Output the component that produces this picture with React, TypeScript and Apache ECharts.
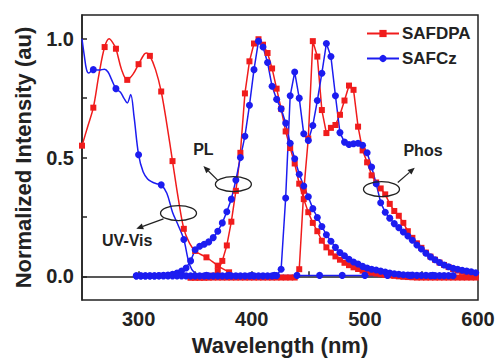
import React, { useEffect, useRef } from "react";
import * as echarts from "echarts";

const RED = "#f01c1c";
const BLUE = "#1c1cf0";
const INK = "#222222";
const FONT = "Arial, 'Liberation Sans', sans-serif";

// Shared wavelength grid for PL / Phos spectra (nm)
const GRID = [
  298, 302, 306, 310, 314, 318, 322, 326, 330, 334, 338, 342, 346, 350, 354, 358, 362, 366, 370, 374,
  378, 382, 386, 390, 394, 398, 402, 406, 410, 414, 418, 422, 426, 430, 434, 438, 442, 446, 450, 454,
  458, 462, 466, 470, 474, 478, 482, 486, 490, 494, 498, 502, 506, 510, 514, 518, 522, 526, 530, 534,
  538, 542, 546, 550, 554, 558, 562, 566, 570, 574, 578, 582, 586, 590, 594, 598,
];

const SAFCZ_PL = [
  0.002, 0.002, 0.002, 0.002, 0.002, 0.003, 0.004, 0.006, 0.009, 0.014, 0.022, 0.035, 0.065, 0.112, 0.127, 0.135, 0.145, 0.163, 0.19, 0.225,
  0.272, 0.325, 0.405, 0.5, 0.59, 0.72, 0.87, 0.99, 0.965, 0.9, 0.8, 0.745, 0.705, 0.645, 0.56, 0.495, 0.43, 0.38, 0.335, 0.285,
  0.248, 0.21, 0.175, 0.148, 0.122, 0.1, 0.087, 0.072, 0.06, 0.052, 0.042, 0.035, 0.03, 0.027, 0.022, 0.018, 0.014, 0.011, 0.009, 0.007,
  0.006, 0.005, 0.004, 0.004, 0.004, 0.003, 0.003, 0.003, 0.003, 0.003, 0.003, null, null, null, null, null,
];

const SAFDPA_PL = [
  null, null, null, null, null, null, null, null, null, null, null, null, -0.005, -0.005, -0.005, -0.005, -0.004, 0.003, 0.022, 0.065,
  0.13, 0.23, 0.36, 0.52, 0.77, 0.905, 0.98, 0.998, 0.975, 0.94, 0.875, 0.79, 0.705, 0.61, 0.54, 0.475, 0.39, 0.325, 0.27, 0.225,
  0.19, 0.15, 0.122, 0.1, 0.084, 0.07, 0.057, 0.047, 0.038, 0.031, 0.024, 0.019, 0.015, 0.012, 0.009, 0.006, 0.004, 0.002, 0.0, -0.002,
  -0.003, -0.004, -0.005, -0.005, -0.005, -0.005, -0.005, -0.005, -0.005, -0.005, -0.005, -0.005, -0.005, -0.005, -0.005, -0.005,
];

const SAFCZ_PHOS = [
  0.002, 0.002, 0.002, 0.002, 0.002, 0.002, 0.002, 0.002, 0.002, 0.002, 0.002, 0.002, 0.002, 0.002, 0.002, 0.002, 0.002, 0.002, 0.002, 0.002,
  0.002, 0.002, 0.002, 0.002, 0.002, 0.002, 0.002, 0.002, 0.002, 0.002, 0.002, 0.003, 0.03, 0.33, 0.76, 0.86, 0.75, 0.6, 0.572, 0.635,
  0.74, 0.855, 0.98, 0.925, 0.76, 0.605, 0.565, 0.555, 0.558, 0.56, 0.552, 0.52, 0.46, 0.39, 0.31, 0.27, 0.245, 0.222, 0.205, 0.187,
  0.17, 0.152, 0.132, 0.115, 0.097, 0.082, 0.07, 0.058, 0.048, 0.04, 0.034, 0.03, 0.026, 0.022, 0.019, 0.015,
];

const SAFDPA_PHOS = [
  null, null, null, null, null, null, null, null, null, null, null, null, -0.005, -0.005, -0.005, -0.005, -0.005, -0.005, -0.005, -0.005,
  -0.005, -0.005, -0.005, -0.005, -0.005, -0.005, -0.005, -0.005, -0.005, -0.005, -0.005, -0.005, -0.005, -0.005, -0.005, -0.005, 0.03, 0.36, 0.58, 0.99,
  0.925, 0.7, 0.603, 0.625, 0.637, 0.68, 0.74, 0.803, 0.785, 0.63, 0.53, 0.48, 0.425, 0.395, 0.37, 0.345, 0.305, 0.275, 0.255, 0.225,
  0.19, 0.162, 0.139, 0.12, 0.1, 0.083, 0.07, 0.058, 0.048, 0.039, 0.031, 0.024, 0.019, 0.014, 0.011, 0.008,
];

// UV-Vis absorption (marker flag: 1 = drawn symbol)
const UV_DPA_X = [250, 255, 260, 265, 270, 274, 277, 280, 285, 290, 295, 300, 305, 307, 310, 315, 320, 325, 330, 335, 340, 345, 350, 355, 360, 365, 370, 375, 380];
const UV_DPA_Y = [0.55, 0.63, 0.71, 0.85, 0.965, 1.0, 0.985, 0.958, 0.87, 0.827, 0.85, 0.893, 0.935, 0.94, 0.928, 0.87, 0.778, 0.64, 0.485, 0.33, 0.2, 0.14, 0.107, 0.092, 0.08, 0.063, 0.045, 0.03, 0.017];
const UV_DPA_MARK = [1, 0, 1, 0, 1, 0, 0, 1, 0, 1, 0, 1, 0, 0, 1, 0, 1, 0, 1, 0, 1, 0, 1, 0, 1, 0, 1, 0, 1];

const UV_CZ_X = [250, 252, 254, 256, 260, 265, 270, 273, 276, 280, 284, 287, 290, 293, 296, 300, 304, 308, 312, 316, 320, 325, 330, 335, 340, 345, 350, 355, 360, 380, 400, 420, 440, 460, 480, 500, 520, 540, 560, 575];
const UV_CZ_Y = [1.0, 0.93, 0.87, 0.856, 0.87, 0.868, 0.872, 0.86, 0.83, 0.79, 0.775, 0.75, 0.73, 0.765, 0.672, 0.512, 0.44, 0.41, 0.397, 0.39, 0.385, 0.35, 0.27, 0.215, 0.155, 0.05, 0.012, 0.005, 0.004, 0.004, 0.004, 0.004, 0.004, 0.004, 0.004, 0.004, 0.004, 0.004, 0.004, 0.004];
const UV_CZ_MARK = [0, 0, 0, 0, 1, 0, 0, 0, 0, 1, 0, 0, 0, 0, 0, 1, 0, 0, 0, 0, 1, 0, 0, 0, 1, 0, 0, 0, 1, 1, 1, 1, 1, 1, 1, 1, 1, 1, 1, 0];

const X_TICKS = [300, 350, 400, 450, 500, 550, 600];
const X_LABELS = [300, 400, 500, 600];
const Y_TICKS = [0, 0.25, 0.5, 0.75, 1.0];
const Y_LABELS = [0, 0.5, 1.0];

// Annotations in data units: ellipse centre, arrow tail, arrow tip, label centre
const NOTES = [
  { text: "UV-Vis", ellipse: [335.3, 0.266], tail: [322, 0.242], tip: [298, 0.2], label: [290, 0.152] },
  { text: "PL", ellipse: [383.8, 0.388], tail: [370.3, 0.403], tip: [357.3, 0.464], label: [357.3, 0.533] },
  { text: "Phos", ellipse: [514.7, 0.367], tail: [529.1, 0.395], tip: [544.1, 0.457], label: [551.4, 0.53] },
];

function gridSeries(ys: (number | null)[]) {
  const out: number[][] = [];
  ys.forEach((y, i) => {
    if (y !== null) out.push([GRID[i], y]);
  });
  return out;
}

function markedSeries(xs: number[], ys: number[], marks: number[], sym: string) {
  return xs.map((x, i) => ({ value: [x, ys[i]], symbol: marks[i] ? sym : "none" }));
}

export default function App() {
  const ref = useRef<HTMLDivElement>(null);

  useEffect(() => {
    document.body.style.margin = "0";
    if (!ref.current) return;
    const chart = echarts.init(ref.current, null, { renderer: "svg" });

    const base = (name: string, color: string, symbol: string, size: number) => ({
      name,
      type: "line",
      symbol,
      symbolSize: size,
      showSymbol: true,
      lineStyle: { color, width: 1.5 },
      itemStyle: { color, borderWidth: 0 },
      emphasis: { disabled: true },
    });

    const axisText = { color: INK, fontFamily: FONT, fontWeight: "bold" };

    chart.setOption({
      animation: false,
      backgroundColor: "#ffffff",
      grid: { left: 82, right: 20, top: 15, bottom: 56, show: true, borderColor: INK, borderWidth: 1.5 },
      legend: {
        data: ["SAFDPA", "SAFCz"],
        orient: "vertical",
        left: 361,
        top: 20,
        itemWidth: 32,
        itemHeight: 9,
        itemGap: 8,
        textStyle: { ...axisText, fontSize: 17, padding: [0, 0, 0, -2] },
      },
      xAxis: {
        type: "value",
        min: 250,
        max: 600,
        name: "Wavelength (nm)",
        nameLocation: "middle",
        nameGap: 33,
        nameTextStyle: { ...axisText, fontSize: 22 },
        axisLine: { show: true, lineStyle: { color: INK, width: 1.5 } },
        axisTick: { show: true, inside: true, length: 5, customValues: X_TICKS, lineStyle: { color: INK, width: 1.5 } },
        axisLabel: { customValues: X_LABELS, fontSize: 20, margin: 9, ...axisText },
        splitLine: { show: false },
      },
      yAxis: {
        type: "value",
        min: -0.1,
        max: 1.1,
        name: "Normalized Intensity (au)",
        nameLocation: "middle",
        nameGap: 48,
        nameTextStyle: { ...axisText, fontSize: 22 },
        axisLine: { show: true, lineStyle: { color: INK, width: 1.5 } },
        axisTick: { show: true, inside: true, length: 5, customValues: Y_TICKS, lineStyle: { color: INK, width: 1.5 } },
        axisLabel: { customValues: Y_LABELS, fontSize: 20, margin: 8, ...axisText, formatter: (v: number) => v.toFixed(1) },
        splitLine: { show: false },
      },
      series: [
        { ...base("SAFDPA", RED, "rect", 6), data: gridSeries(SAFDPA_PL) },
        { ...base("SAFDPA", RED, "rect", 6), data: gridSeries(SAFDPA_PHOS) },
        { ...base("SAFDPA", RED, "rect", 6), smooth: 0.35, data: markedSeries(UV_DPA_X, UV_DPA_Y, UV_DPA_MARK, "rect") },
        { ...base("SAFCz", BLUE, "circle", 7), data: gridSeries(SAFCZ_PL) },
        { ...base("SAFCz", BLUE, "circle", 7), data: gridSeries(SAFCZ_PHOS) },
        { ...base("SAFCz", BLUE, "circle", 7), smooth: 0.35, data: markedSeries(UV_CZ_X, UV_CZ_Y, UV_CZ_MARK, "circle") },
      ],
    });

    const px = (p: number[]) => chart.convertToPixel({ gridIndex: 0 }, p) as number[];
    const elements: any[] = [];
    NOTES.forEach((n) => {
      const c = px(n.ellipse);
      const t0 = px(n.tail);
      const t1 = px(n.tip);
      const l = px(n.label);
      const dx = t1[0] - t0[0];
      const dy = t1[1] - t0[1];
      const len = Math.sqrt(dx * dx + dy * dy) || 1;
      const ux = dx / len;
      const uy = dy / len;
      const head = 7;
      const half = 3;
      const bx = t1[0] - ux * head;
      const by = t1[1] - uy * head;
      elements.push({
        type: "ellipse",
        z: 100,
        shape: { cx: c[0], cy: c[1], rx: 18, ry: 7.5 },
        style: { fill: "none", stroke: INK, lineWidth: 1.3 },
      });
      elements.push({
        type: "line",
        z: 100,
        shape: { x1: t0[0], y1: t0[1], x2: bx, y2: by },
        style: { stroke: INK, lineWidth: 1.2 },
      });
      elements.push({
        type: "polygon",
        z: 100,
        shape: {
          points: [
            [t1[0], t1[1]],
            [bx - uy * half, by + ux * half],
            [bx + uy * half, by - ux * half],
          ],
        },
        style: { fill: INK },
      });
      elements.push({
        type: "text",
        z: 100,
        x: l[0],
        y: l[1],
        style: {
          text: n.text,
          fill: INK,
          fontSize: 16,
          fontWeight: "bold",
          fontFamily: FONT,
          align: "center",
          verticalAlign: "middle",
        },
      });
    });
    chart.setOption({ graphic: { elements } });

    return () => chart.dispose();
  }, []);

  return <div ref={ref} style={{ width: 498, height: 361 }} />;
}
